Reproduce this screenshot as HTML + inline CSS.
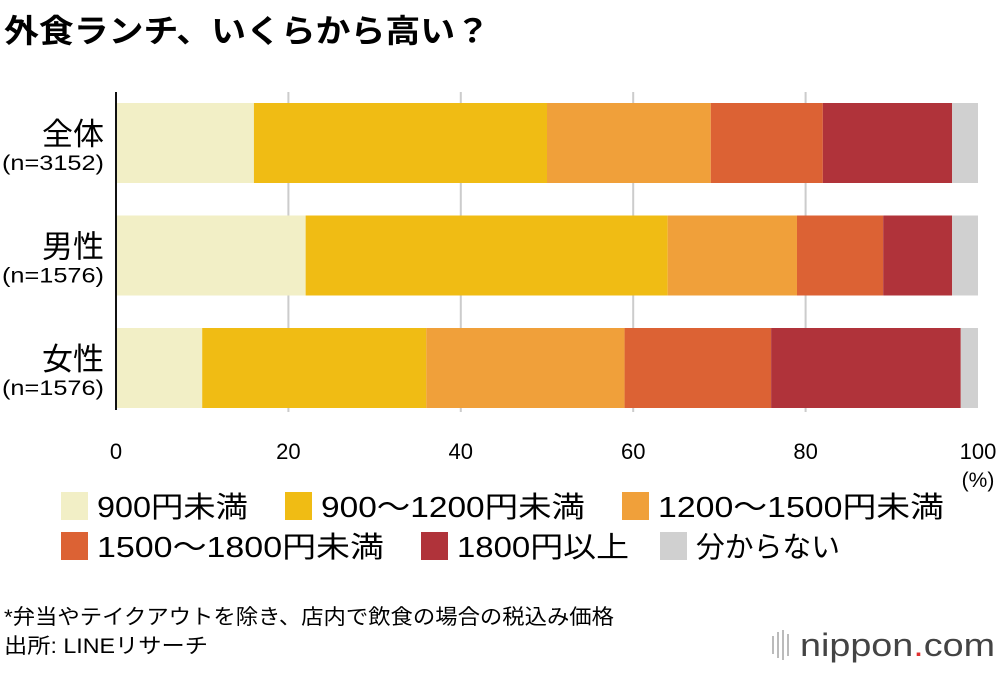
<!DOCTYPE html>
<html><head><meta charset="utf-8"><style>
body{margin:0;width:1000px;height:668px;background:#fff;overflow:hidden;font-family:"Liberation Sans","Noto Sans CJK JP",sans-serif;color:#111}
svg text{font-family:"Liberation Sans","Noto Sans CJK JP",sans-serif}
</style></head><body>
<svg id="c" width="1000" height="668">
<text x="4" y="42" font-size="32" font-weight="bold" textLength="486" lengthAdjust="spacingAndGlyphs">外食ランチ、いくらから高い？</text>
<g id="grid"></g><g id="bars"></g><g id="axis"></g><g id="legend"></g>
<text x="4" y="624" font-size="21" textLength="610" lengthAdjust="spacingAndGlyphs">*弁当やテイクアウトを除き、店内で飲食の場合の税込み価格</text>
<text x="4" y="653" font-size="21" textLength="204" lengthAdjust="spacingAndGlyphs">出所: LINEリサーチ</text>
<g>
<g fill="#bbb"><rect x="772" y="636" width="2" height="18"/><rect x="777" y="632" width="2" height="26"/><rect x="782" y="630" width="2" height="30"/><rect x="787" y="634" width="2" height="22"/></g>
<text x="800" y="656" font-size="32" fill="#444" textLength="195" lengthAdjust="spacingAndGlyphs">nippon<tspan fill="#e03030">.</tspan>com</text>
</g>
</svg>
<script>
const categories=["全体","男性","女性"];
const sampleSizes=["(n=3152)","(n=1576)","(n=1576)"];
const seriesNames=["900円未満","900〜1200円未満","1200〜1500円未満","1500〜1800円未満","1800円以上","分からない"];
const s1=[16,22,10];
const s2=[34,42,26];
const s3=[19,15,23];
const s4=[13,10,17];
const s5=[15,8,22];
const s6=[3,3,2];
const ticks=[0,20,40,60,80,100];
const series=[s1,s2,s3,s4,s5,s6];
const colors=["#f2efc6","#f0bc14","#f0a03a","#dc6234","#b0333a","#d0d0d0"];
const NS="http://www.w3.org/2000/svg";
const x0=116,x1=978;
const xs=v=>x0+(x1-x0)*v/100;
const barY=i=>103+i*112.5, barH=80;
function mk(t,a,p){const e=document.createElementNS(NS,t);for(const k in a)e.setAttribute(k,a[k]);p.appendChild(e);return e;}
const g=document.getElementById('grid'),b=document.getElementById('bars'),ax=document.getElementById('axis'),lg=document.getElementById('legend');
ticks.forEach(t=>{
 if(t>0&&t<100){const l=mk('line',{x1:xs(t),x2:xs(t),y1:92,y2:412,stroke:'#ccc','stroke-width':2},g);
 
 }
 const tx=mk('text',{x:xs(t),y:459,'font-size':22,'text-anchor':'middle'},ax);tx.textContent=t;
 
 
});
const pc=mk('text',{x:xs(100),y:487,'font-size':21,'text-anchor':'middle'},ax);pc.textContent='(%)';


categories.forEach((c,i)=>{
 let acc=0;
 series.forEach((s,j)=>{
  const r=mk('rect',{x:xs(acc),y:barY(i),width:xs(acc+s[i])-xs(acc),height:barH,fill:colors[j]},b);
  
  
  acc+=s[i];
 });
 const t=mk('text',{x:104,y:barY(i)+42,'font-size':31,'text-anchor':'end'},ax);t.textContent=c;
 
 
 const n=mk('text',{x:2,y:barY(i)+67,'font-size':21,textLength:102,lengthAdjust:'spacingAndGlyphs'},ax);n.textContent=sampleSizes[i];
 
 
});
const al=mk('line',{x1:x0,x2:x0,y1:92,y2:410,stroke:'#111','stroke-width':2},ax);


const lx=[61,285,622,61,421,660],ly=[506,506,506,546,546,546];
const lw=[151,264,286,287,172,144];
seriesNames.forEach((s,j)=>{
 const r=mk('rect',{x:lx[j],y:ly[j]-14,width:27,height:28,fill:colors[j]},lg);
 
 
 const t=mk('text',{x:lx[j]+36,y:ly[j]+11,'font-size':29,textLength:lw[j],lengthAdjust:'spacingAndGlyphs'},lg);t.textContent=s;
 
 
});
</script>
</body></html>
